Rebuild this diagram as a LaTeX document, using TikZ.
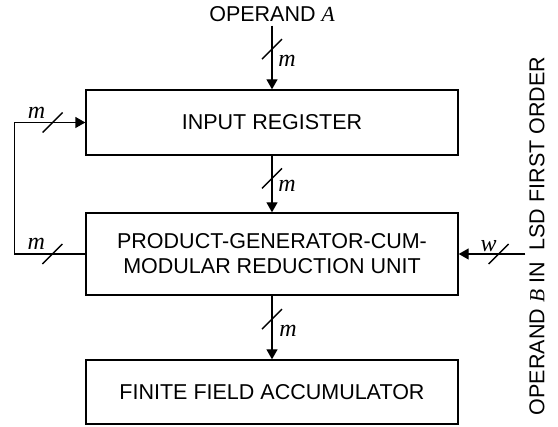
\documentclass[tikz,border=0pt]{standalone}
\usepackage{fontspec}
\setmainfont{Liberation Sans}
\newfontfamily\tms{Liberation Serif}
\usetikzlibrary{arrows.meta, positioning, calc}
\newcommand{\bw}[1]{{\tms\itshape #1}}
\newcommand{\busmark}[1]{\draw ([shift={(-10,10)}]#1) -- ([shift={(10,-10)}]#1);}

\begin{document}
\begin{tikzpicture}[x=1pt, y=-1pt, line width=1.4pt, font=\fontsize{21.5}{25}\selectfont,
  block/.style={draw, minimum width=372pt, align=center, inner sep=0pt},
  buslabel/.style={font=\fontsize{24}{24}\selectfont, inner sep=0pt},
  arr/.style={-{Triangle[length=10pt,width=11pt]}}]
\useasboundingbox (0,0) rectangle (558,427);
% Blocks
\node[block, minimum height=65pt] (inreg) at (272,122.5) {INPUT REGISTER};
\node[block, minimum height=82pt] (prod) at (272,254) {PRODUCT-GENERATOR-CUM-\\MODULAR REDUCTION UNIT};
\node[block, minimum height=64pt] (acc) at (272,392) {FINITE FIELD ACCUMULATOR};
% Operands
\node (opA) at (272,14) {OPERAND \bw{A}};
\node[rotate=90] (opB) at (537,236) {OPERAND \bw{B} IN\ \ LSD FIRST ORDER};
% Data paths
\draw[arr] (opA) -- coordinate[pos=0.37] (s1) (inreg);
\draw[arr] (inreg) -- coordinate[pos=0.4] (s2) (prod);
\draw[arr] (prod) -- coordinate[pos=0.37] (s3) (acc);
\draw[arr] (prod.west) -- coordinate[pos=0.465] (s4) ++(-71,0) |- coordinate[pos=0.77] (s5) (inreg.west);
\draw[arr] (opB.north |- prod.east) -- coordinate[pos=0.4] (s6) (prod.east);
% Bus widths
\foreach \s in {s1,s2,s3,s4,s5,s6} {\busmark{\s}}
\node[buslabel] (m1) at ([shift={(15,12)}]s1) {\bw{m}};
\node[buslabel] (m2) at ([shift={(15,8)}]s2) {\bw{m}};
\node[buslabel] (m3) at ([shift={(16,12)}]s3) {\bw{m}};
\node[buslabel] (m4) at ([shift={(-16,-10)}]s4) {\bw{m}};
\node[buslabel] (m5) at ([shift={(-16,-10)}]s5) {\bw{m}};
\node[buslabel] (w1) at ([shift={(-10,-8)}]s6) {\bw{w}};
\end{tikzpicture}
\end{document}
